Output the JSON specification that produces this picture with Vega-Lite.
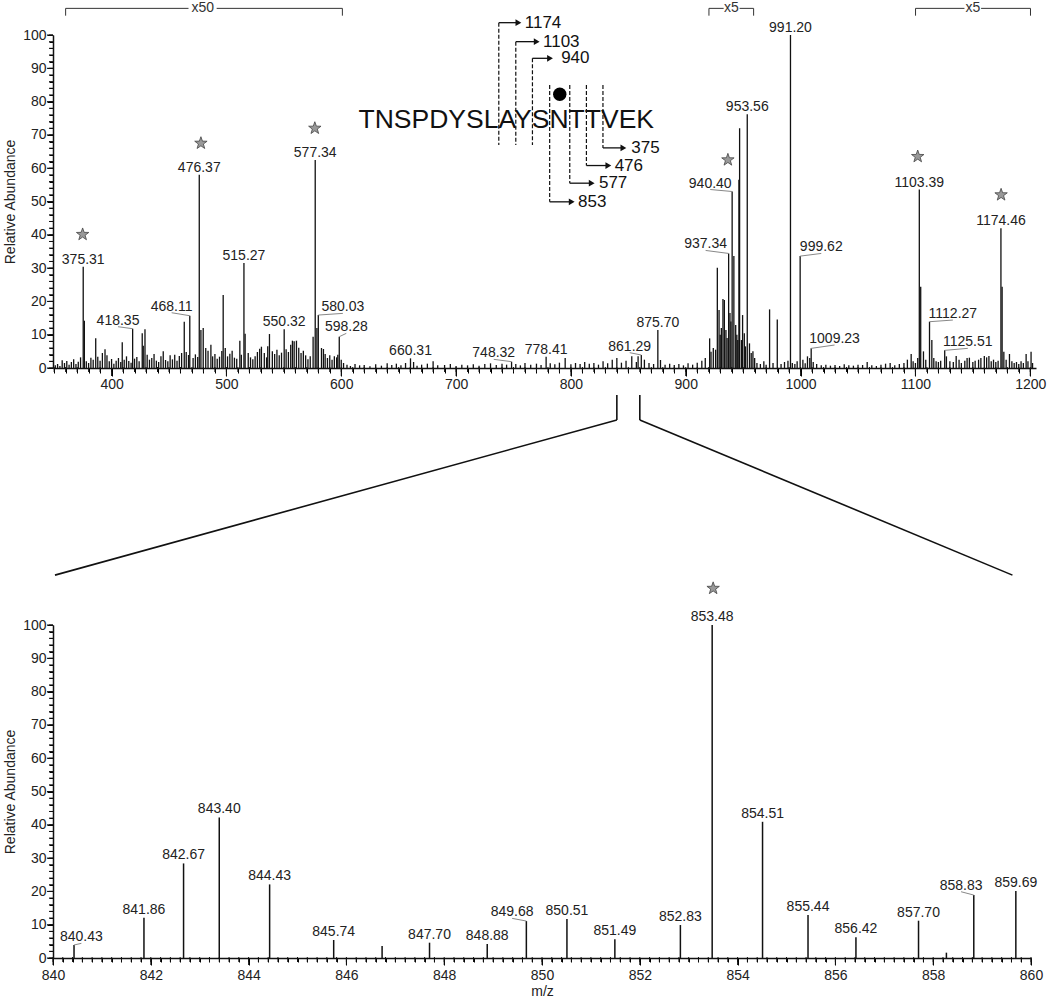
{
  "$schema": "https://vega.github.io/schema/vega-lite/v6.json",
  "background": "white",
  "padding": {"left": 3, "top": 1, "right": 5, "bottom": 4},
  "bounds": "flush",
  "spacing": 257,
  "config": {
    "font": "Liberation Sans",
    "view": {"stroke": null},
    "axis": {"grid": false, "ticks": true, "domain": true, "labelFlush": false, "labelOverlap": false, "tickColor": "#000", "tickWidth": 1, "tickOpacity": 1, "domainColor": "#111", "labelColor": "#222", "titleColor": "#222", "tickCount": 300}
  },
  "datasets": {
    "tickTopX": [{"v":350},{"v":360},{"v":370},{"v":380},{"v":390},{"v":400},{"v":410},{"v":420},{"v":430},{"v":440},{"v":450},{"v":460},{"v":470},{"v":480},{"v":490},{"v":500},{"v":510},{"v":520},{"v":530},{"v":540},{"v":550},{"v":560},{"v":570},{"v":580},{"v":590},{"v":600},{"v":610},{"v":620},{"v":630},{"v":640},{"v":650},{"v":660},{"v":670},{"v":680},{"v":690},{"v":700},{"v":710},{"v":720},{"v":730},{"v":740},{"v":750},{"v":760},{"v":770},{"v":780},{"v":790},{"v":800},{"v":810},{"v":820},{"v":830},{"v":840},{"v":850},{"v":860},{"v":870},{"v":880},{"v":890},{"v":900},{"v":910},{"v":920},{"v":930},{"v":940},{"v":950},{"v":960},{"v":970},{"v":980},{"v":990},{"v":1000},{"v":1010},{"v":1020},{"v":1030},{"v":1040},{"v":1050},{"v":1060},{"v":1070},{"v":1080},{"v":1090},{"v":1100},{"v":1110},{"v":1120},{"v":1130},{"v":1140},{"v":1150},{"v":1160},{"v":1170},{"v":1180},{"v":1190},{"v":1200}],
    "tickY": [{"v":0},{"v":2},{"v":4},{"v":6},{"v":8},{"v":10},{"v":12},{"v":14},{"v":16},{"v":18},{"v":20},{"v":22},{"v":24},{"v":26},{"v":28},{"v":30},{"v":32},{"v":34},{"v":36},{"v":38},{"v":40},{"v":42},{"v":44},{"v":46},{"v":48},{"v":50},{"v":52},{"v":54},{"v":56},{"v":58},{"v":60},{"v":62},{"v":64},{"v":66},{"v":68},{"v":70},{"v":72},{"v":74},{"v":76},{"v":78},{"v":80},{"v":82},{"v":84},{"v":86},{"v":88},{"v":90},{"v":92},{"v":94},{"v":96},{"v":98},{"v":100}],
    "tickBotX": [{"v":840},{"v":840.2},{"v":840.4},{"v":840.6},{"v":840.8},{"v":841},{"v":841.2},{"v":841.4},{"v":841.6},{"v":841.8},{"v":842},{"v":842.2},{"v":842.4},{"v":842.6},{"v":842.8},{"v":843},{"v":843.2},{"v":843.4},{"v":843.6},{"v":843.8},{"v":844},{"v":844.2},{"v":844.4},{"v":844.6},{"v":844.8},{"v":845},{"v":845.2},{"v":845.4},{"v":845.6},{"v":845.8},{"v":846},{"v":846.2},{"v":846.4},{"v":846.6},{"v":846.8},{"v":847},{"v":847.2},{"v":847.4},{"v":847.6},{"v":847.8},{"v":848},{"v":848.2},{"v":848.4},{"v":848.6},{"v":848.8},{"v":849},{"v":849.2},{"v":849.4},{"v":849.6},{"v":849.8},{"v":850},{"v":850.2},{"v":850.4},{"v":850.6},{"v":850.8},{"v":851},{"v":851.2},{"v":851.4},{"v":851.6},{"v":851.8},{"v":852},{"v":852.2},{"v":852.4},{"v":852.6},{"v":852.8},{"v":853},{"v":853.2},{"v":853.4},{"v":853.6},{"v":853.8},{"v":854},{"v":854.2},{"v":854.4},{"v":854.6},{"v":854.8},{"v":855},{"v":855.2},{"v":855.4},{"v":855.6},{"v":855.8},{"v":856},{"v":856.2},{"v":856.4},{"v":856.6},{"v":856.8},{"v":857},{"v":857.2},{"v":857.4},{"v":857.6},{"v":857.8},{"v":858},{"v":858.2},{"v":858.4},{"v":858.6},{"v":858.8},{"v":859},{"v":859.2},{"v":859.4},{"v":859.6},{"v":859.8},{"v":860}],
    "top": [
      {"mz":351,"h":0.8},{"mz":353,"h":1.2},{"mz":355,"h":0.6},{"mz":357,"h":2.3},{"mz":359,"h":1.5},{"mz":361,"h":2.1},{"mz":363,"h":1.0},{"mz":365,"h":1.8},{"mz":367,"h":2.6},{"mz":369,"h":1.2},{"mz":371,"h":1.9},{"mz":373,"h":3.2},
      {"mz":375.31,"h":30.4,"label":"375.31"},
      {"mz":376.3,"h":14.2},
      {"mz":378,"h":2.0},{"mz":380,"h":1.5},{"mz":382,"h":3.1},{"mz":384,"h":2.5},{"mz":386.2,"h":8.9},{"mz":388,"h":3.4},{"mz":390,"h":2.2},{"mz":392,"h":4.5},{"mz":394.3,"h":5.6},{"mz":396,"h":3.8},{"mz":398,"h":2.0},{"mz":400,"h":2.7},{"mz":402,"h":1.3},{"mz":404,"h":2.2},{"mz":406,"h":3.0},{"mz":408,"h":1.8},{"mz":409.3,"h":7.7},{"mz":411,"h":2.5},{"mz":413,"h":3.5},{"mz":415,"h":2.1},{"mz":417,"h":1.6},
      {"mz":418.35,"h":11.8,"label":"418.35","lx":405.6,"ly":12.4},
      {"mz":420,"h":2.8},{"mz":422,"h":3.3},{"mz":424,"h":2.0},{"mz":426.7,"h":10.4},{"mz":427.6,"h":6.7},{"mz":429.1,"h":11.6},{"mz":431,"h":4.0},{"mz":433,"h":2.5},{"mz":435,"h":3.0},{"mz":437,"h":4.2},{"mz":439,"h":2.2},{"mz":441,"h":1.8},{"mz":443,"h":3.5},{"mz":445,"h":5.0},{"mz":447,"h":2.4},{"mz":449,"h":2.0},{"mz":451,"h":3.8},{"mz":453,"h":2.6},{"mz":455,"h":4.0},{"mz":457,"h":2.2},{"mz":459,"h":3.6},{"mz":461,"h":4.5},{"mz":463.3,"h":13.9},{"mz":465,"h":4.8},{"mz":467,"h":3.9},
      {"mz":468.11,"h":15.7,"label":"468.11","lx":452.3,"ly":16.6},
      {"mz":471,"h":3.0},{"mz":473,"h":4.1},{"mz":475,"h":3.3},
      {"mz":476.37,"h":58,"label":"476.37"},
      {"mz":477.8,"h":11.4},{"mz":479.8,"h":12.0},{"mz":482,"h":6.0},{"mz":484,"h":5.2},{"mz":486.5,"h":7.0},{"mz":488,"h":3.5},{"mz":490,"h":4.2},{"mz":492,"h":2.8},{"mz":494,"h":3.4},{"mz":496,"h":5.1},{"mz":497.2,"h":21.9},{"mz":499,"h":6.0},{"mz":501,"h":3.5},{"mz":503,"h":4.3},{"mz":505,"h":5.2},{"mz":507,"h":3.1},{"mz":509,"h":2.8},{"mz":511.7,"h":8.2},{"mz":513,"h":4.0},
      {"mz":515.27,"h":31.5,"label":"515.27"},
      {"mz":516.3,"h":10.3},{"mz":519,"h":4.5},{"mz":521,"h":3.2},{"mz":523,"h":2.6},{"mz":525,"h":3.5},{"mz":527,"h":4.8},{"mz":529,"h":5.8},{"mz":530.5,"h":6.4},{"mz":533,"h":4.5},{"mz":535,"h":3.2},{"mz":536,"h":6.5},{"mz":537.5,"h":10.2},{"mz":540,"h":5.0},{"mz":542,"h":4.2},{"mz":544,"h":5.5},{"mz":546,"h":3.8},{"mz":548,"h":4.6},
      {"mz":550.32,"h":11.6,"label":"550.32"},
      {"mz":552,"h":5.6},{"mz":554,"h":4.8},{"mz":556,"h":7.0},{"mz":557.5,"h":8.2},{"mz":559,"h":8.0},{"mz":561,"h":8.2},{"mz":563,"h":6.1},{"mz":565,"h":4.5},{"mz":567,"h":5.2},{"mz":569,"h":3.8},{"mz":571,"h":2.6},{"mz":573,"h":3.5},{"mz":575.5,"h":9.4},
      {"mz":577.34,"h":62.5,"label":"577.34"},
      {"mz":578.8,"h":12.0},
      {"mz":580.03,"h":15.9,"label":"580.03","lx":601.4,"ly":16.4},
      {"mz":582.8,"h":6.0},{"mz":584.5,"h":5.7},{"mz":586,"h":4.2},{"mz":588,"h":3.0},{"mz":590,"h":3.8},{"mz":592,"h":2.5},{"mz":594,"h":3.5},{"mz":596,"h":3.2},{"mz":597,"h":4.0},
      {"mz":598.28,"h":9.4,"label":"598.28","lx":604.4,"ly":10.4},
      {"mz":600,"h":2.5},{"mz":602,"h":1.5},{"mz":605,"h":1.0},{"mz":608,"h":0.6},{"mz":612,"h":1.2},{"mz":616,"h":0.8},{"mz":620,"h":0.9},{"mz":625,"h":0.5},{"mz":630,"h":1.1},{"mz":635,"h":0.7},{"mz":640,"h":1.4},{"mz":644,"h":0.9},{"mz":648,"h":1.3},{"mz":652,"h":0.8},{"mz":656,"h":1.5},
      {"mz":660.31,"h":2.9,"label":"660.31"},
      {"mz":663,"h":1.8},{"mz":666,"h":0.7},{"mz":670,"h":1.0},{"mz":675,"h":1.3},{"mz":680,"h":2.0},{"mz":684,"h":0.8},{"mz":690,"h":0.9},{"mz":695,"h":1.2},{"mz":700,"h":0.6},{"mz":705,"h":1.0},{"mz":710,"h":0.8},{"mz":715,"h":1.1},{"mz":720,"h":0.7},{"mz":725,"h":1.2},{"mz":730,"h":1.4},{"mz":735,"h":0.9},{"mz":740,"h":1.3},{"mz":744,"h":1.0},
      {"mz":748.32,"h":1.9,"label":"748.32","lx":732.8,"ly":2.6},
      {"mz":752,"h":1.2},{"mz":756,"h":0.8},{"mz":760,"h":1.5},{"mz":765,"h":1.0},{"mz":770,"h":1.3},{"mz":774,"h":0.9},
      {"mz":778.41,"h":3.4,"label":"778.41"},
      {"mz":782,"h":1.4},{"mz":786,"h":1.1},{"mz":790,"h":1.6},{"mz":795,"h":3.0},{"mz":800,"h":1.1},{"mz":804,"h":1.5},{"mz":808,"h":1.2},{"mz":812,"h":1.8},{"mz":816,"h":1.3},{"mz":820,"h":1.5},{"mz":824,"h":1.0},{"mz":828,"h":2.0},{"mz":832,"h":1.4},{"mz":836,"h":2.5},{"mz":840,"h":3.0},{"mz":844,"h":1.6},{"mz":848,"h":2.2},{"mz":853,"h":3.5},{"mz":857,"h":1.8},{"mz":858.5,"h":3.5},
      {"mz":861.29,"h":3.9,"label":"861.29","lx":851.2,"ly":4.6},
      {"mz":864,"h":2.5},{"mz":868,"h":1.5},{"mz":872,"h":1.2},
      {"mz":875.7,"h":11.4,"label":"875.70"},
      {"mz":878,"h":2.4},{"mz":882,"h":1.0},{"mz":886,"h":1.3},{"mz":890,"h":0.9},{"mz":894,"h":1.2},{"mz":898,"h":0.8},{"mz":902,"h":1.4},{"mz":906,"h":1.0},{"mz":910,"h":1.6},{"mz":914,"h":2.2},{"mz":917,"h":3.0},
      {"mz":920.8,"h":8.9},{"mz":922,"h":4.9},{"mz":924,"h":6.0},{"mz":926,"h":5.5},{"mz":927.5,"h":30.1},{"mz":929,"h":17.4},{"mz":930,"h":10.0},{"mz":931,"h":12.0},{"mz":932.4,"h":20.7},{"mz":933.6,"h":20.4},{"mz":935,"h":11.4},{"mz":936,"h":9.0},
      {"mz":937.34,"h":34.4,"label":"937.34","lx":917.3,"ly":35.3},
      {"mz":938.5,"h":16.5},{"mz":939.3,"h":14.0},
      {"mz":940.4,"h":53,"label":"940.40","lx":921.3,"ly":53.6},
      {"mz":941.9,"h":33.6},{"mz":943.5,"h":12.9},{"mz":944.5,"h":10.0},{"mz":945.3,"h":8.4},{"mz":946.3,"h":56.5},{"mz":946.9,"h":72.0},{"mz":948.5,"h":8.4},{"mz":949.5,"h":15.9},{"mz":951,"h":10.4},{"mz":952,"h":6.5},
      {"mz":953.56,"h":76.2,"label":"953.56"},
      {"mz":955.5,"h":7.4},{"mz":957,"h":4.5},{"mz":958.5,"h":5.0},{"mz":960,"h":3.0},{"mz":962,"h":1.5},{"mz":965,"h":1.2},{"mz":968,"h":2.0},{"mz":970,"h":1.0},{"mz":973,"h":17.6},{"mz":976,"h":1.5},{"mz":979.7,"h":14.6},{"mz":983,"h":1.2},{"mz":986,"h":1.8},{"mz":989,"h":2.2},
      {"mz":991.2,"h":100,"label":"991.20"},
      {"mz":992.8,"h":1.5},{"mz":995,"h":1.2},{"mz":997,"h":2.0},
      {"mz":999.62,"h":33.6,"label":"999.62","lx":1018,"ly":34.4},
      {"mz":1002,"h":2.5},{"mz":1004,"h":1.4},{"mz":1006,"h":3.5},{"mz":1008,"h":3.0},
      {"mz":1009.23,"h":5.9,"label":"1009.23","lx":1029.6,"ly":6.9},
      {"mz":1011,"h":1.8},{"mz":1014,"h":1.2},{"mz":1018,"h":0.8},{"mz":1022,"h":1.0},{"mz":1026,"h":0.7},{"mz":1030,"h":0.9},{"mz":1034,"h":0.6},{"mz":1038,"h":1.1},{"mz":1042,"h":0.8},{"mz":1046,"h":0.7},{"mz":1050,"h":1.0},{"mz":1054,"h":0.9},{"mz":1058,"h":1.8},{"mz":1062,"h":0.8},{"mz":1066,"h":0.6},{"mz":1070,"h":1.0},{"mz":1074,"h":1.3},{"mz":1078,"h":1.5},{"mz":1082,"h":0.8},{"mz":1086,"h":1.2},{"mz":1090,"h":1.5},{"mz":1093,"h":2.5},{"mz":1096.3,"h":4.2},{"mz":1098,"h":2.0},{"mz":1100,"h":1.5},{"mz":1102,"h":3.0},
      {"mz":1103.39,"h":53.6,"label":"1103.39"},
      {"mz":1104.6,"h":24.4},{"mz":1107,"h":5.0},{"mz":1109,"h":2.5},
      {"mz":1112.27,"h":13.9,"label":"1112.27","lx":1132.6,"ly":14.4},
      {"mz":1114.3,"h":8.4},{"mz":1116,"h":3.0},{"mz":1118,"h":2.0},{"mz":1120,"h":1.8},{"mz":1122,"h":2.2},
      {"mz":1125.51,"h":5.3,"label":"1125.51","lx":1145.6,"ly":5.9},
      {"mz":1127,"h":3.5},{"mz":1130,"h":2.0},{"mz":1133,"h":1.8},{"mz":1135.5,"h":3.6},{"mz":1138,"h":2.5},{"mz":1140,"h":1.5},{"mz":1143,"h":2.2},{"mz":1145,"h":3.0},{"mz":1147,"h":3.1},{"mz":1150,"h":1.8},{"mz":1152,"h":2.2},{"mz":1155,"h":2.5},{"mz":1157,"h":3.0},{"mz":1160,"h":3.6},{"mz":1162,"h":3.2},{"mz":1164,"h":3.6},{"mz":1166,"h":2.0},{"mz":1168,"h":2.5},{"mz":1170,"h":1.8},{"mz":1172,"h":2.2},
      {"mz":1174.46,"h":42,"label":"1174.46"},
      {"mz":1175.5,"h":24.4},{"mz":1177,"h":4.9},{"mz":1179,"h":2.5},{"mz":1181.9,"h":4.2},{"mz":1184,"h":2.0},{"mz":1186,"h":1.5},{"mz":1188,"h":1.8},{"mz":1190,"h":1.2},{"mz":1192,"h":2.0},{"mz":1194,"h":1.5},{"mz":1196.4,"h":4.2},{"mz":1198,"h":2.0},{"mz":1200.7,"h":4.9},{"mz":1202,"h":1.5}
    ],
    "topStars": [
      {"mz":374.8,"y":40.1},{"mz":477.8,"y":67.5},{"mz":577.0,"y":72.0},{"mz":936.7,"y":62.5},{"mz":1102.0,"y":63.5},{"mz":1174.6,"y":52.0}
    ],
    "brackets": [
      {"x":360,"x2":360,"y":105.8,"y2":108},{"x":360,"x2":467,"y":108,"y2":108},{"x":491.5,"x2":601,"y":108,"y2":108},{"x":601,"x2":601,"y":108,"y2":105.8},
      {"x":920.2,"x2":920.2,"y":105.8,"y2":108},{"x":920.2,"x2":933,"y":108,"y2":108},{"x":946.9,"x2":959.1,"y":108,"y2":108},{"x":959.1,"x2":959.1,"y":108,"y2":105.8},
      {"x":1100.1,"x2":1100.1,"y":105.8,"y2":108},{"x":1100.1,"x2":1142.7,"y":108,"y2":108},{"x":1157.2,"x2":1200.2,"y":108,"y2":108},{"x":1200.2,"x2":1200.2,"y":108,"y2":105.8}
    ],
    "bracketText": [
      {"x":479.5,"y":108,"t":"x50"},{"x":939.7,"y":108,"t":"x5"},{"x":1150,"y":108,"t":"x5"}
    ],
    "connectors": [
      {"x":840,"x2":840,"y":-8.1,"y2":-15.6},{"x":860,"x2":860,"y":-8.1,"y2":-15.6},
      {"x":840,"x2":350.7,"y":-15.6,"y2":-62.2},{"x":860,"x2":1184.5,"y":-15.6,"y2":-62.2}
    ],
    "pepDash": [
      {"x":737.2,"y":103.7,"y2":67.0},{"x":752.0,"y":98.0,"y2":67.0},{"x":766.5,"y":93.0,"y2":67.0},
      {"x":781.5,"y":85.0,"y2":49.9},{"x":799.0,"y":85.0,"y2":55.5},{"x":813.5,"y":85.0,"y2":60.8},{"x":827.9,"y":85.0,"y2":66.1}
    ],
    "pepArrows": [
      {"x":737.2,"x2":756.9,"y":103.7,"head":754.3,"lx":759.8,"t":"1174"},
      {"x":752.0,"x2":772.8,"y":98.0,"head":770.2,"lx":775.7,"t":"1103"},
      {"x":766.5,"x2":784.4,"y":93.0,"head":781.8,"lx":791.5,"t":"940"},
      {"x":827.9,"x2":848.3,"y":66.1,"head":845.7,"lx":852.6,"t":"375"},
      {"x":813.5,"x2":835.2,"y":60.8,"head":832.6,"lx":838.1,"t":"476"},
      {"x":799.0,"x2":820.7,"y":55.5,"head":818.1,"lx":824.4,"t":"577"},
      {"x":781.5,"x2":803.3,"y":49.9,"head":800.7,"lx":806.2,"t":"853"}
    ],
    "pepText": [{"x":743.7,"y":72.0,"t":"TNSPDYSLAYSNTTVEK"}],
    "pepSite": [{"x":790.3,"y":82.2}],
    "bottom": [
      {"mz":840.43,"h":3.9,"label":"840.43","lx":840.58,"ly":4.4},
      {"mz":841.86,"h":12.1,"label":"841.86"},
      {"mz":842.67,"h":28.4,"label":"842.67"},
      {"mz":843.40,"h":42.2,"label":"843.40"},
      {"mz":844.43,"h":22.1,"label":"844.43"},
      {"mz":845.74,"h":5.4,"label":"845.74"},
      {"mz":846.73,"h":3.6},
      {"mz":847.70,"h":4.6,"label":"847.70"},
      {"mz":848.88,"h":4.2,"label":"848.88"},
      {"mz":849.68,"h":11.1,"label":"849.68","lx":849.39,"ly":11.9},
      {"mz":850.51,"h":11.7,"label":"850.51"},
      {"mz":851.49,"h":5.6,"label":"851.49"},
      {"mz":852.83,"h":9.9,"label":"852.83"},
      {"mz":853.48,"h":100,"label":"853.48"},
      {"mz":854.51,"h":40.9,"label":"854.51"},
      {"mz":855.44,"h":12.9,"label":"855.44"},
      {"mz":856.42,"h":6.2,"label":"856.42"},
      {"mz":857.70,"h":11.2,"label":"857.70"},
      {"mz":858.27,"h":1.6},
      {"mz":858.83,"h":18.9,"label":"858.83","lx":858.57,"ly":19.9},
      {"mz":859.69,"h":20.1,"label":"859.69"}
    ],
    "bottomStars": [{"mz":853.5,"y":111}]
  },
  "vconcat": [
    {
      "width": 983,
      "height": 333,
      "layer": [
        {
          "data": {"name": "top"},
          "mark": {"type": "rule", "color": "#111", "strokeWidth": 1.3, "clip": false},
          "encoding": {
            "x": {"field": "mz", "type": "quantitative", "scale": {"domain": [349, 1205], "nice": false, "zero": false},
                  "axis": {"orient": "bottom", "ticks": true, "tickCount": 300,
                           "values": [350,360,370,380,390,400,410,420,430,440,450,460,470,480,490,500,510,520,530,540,550,560,570,580,590,600,610,620,630,640,650,660,670,680,690,700,710,720,730,740,750,760,770,780,790,800,810,820,830,840,850,860,870,880,890,900,910,920,930,940,950,960,970,980,990,1000,1010,1020,1030,1040,1050,1060,1070,1080,1090,1100,1110,1120,1130,1140,1150,1160,1170,1180,1190,1200],
                           "labelExpr": "abs(datum.value % 100) < 0.001 ? format(datum.value, 'd') : ''",
                           "tickSize": {"condition": {"test": "abs(datum.value % 100) < 0.001", "value": 8}, "value": 5},
                           "title": null, "domainWidth": 1.5, "labelFontSize": 14, "labelPadding": 1}},
            "y": {"field": "h", "type": "quantitative", "scale": {"domain": [0, 100], "nice": false},
                  "axis": {"orient": "left", "ticks": true, "tickCount": 300,
                           "values": [0,2,4,6,8,10,12,14,16,18,20,22,24,26,28,30,32,34,36,38,40,42,44,46,48,50,52,54,56,58,60,62,64,66,68,70,72,74,76,78,80,82,84,86,88,90,92,94,96,98,100],
                           "labelExpr": "abs(datum.value % 10) < 0.001 ? format(datum.value, 'd') : ''",
                           "tickSize": {"condition": {"test": "abs(datum.value % 10) < 0.001", "value": 6}, "value": 4},
                           "title": "Relative Abundance", "titleFontSize": 14, "titleFontWeight": "normal", "titlePadding": 5, "domainWidth": 1.5, "labelFontSize": 14, "labelPadding": 1}},
            "y2": {"datum": 0}
          }
        },
        {
          "data": {"name": "tickTopX"},
          "mark": {"type": "rule", "color": "#111", "strokeWidth": 1, "yOffset": -1, "y2Offset": 4, "clip": false},
          "encoding": {
            "x": {"field": "v", "type": "quantitative"},
            "y": {"datum": 0, "type": "quantitative"},
            "y2": {"datum": 0}
          }
        },
        {
          "data": {"name": "tickTopX"},
          "transform": [{"filter": "datum.v % 100 == 0"}],
          "mark": {"type": "rule", "color": "#111", "strokeWidth": 1, "y2Offset": 8, "clip": false},
          "encoding": {
            "x": {"field": "v", "type": "quantitative"},
            "y": {"datum": 0, "type": "quantitative"},
            "y2": {"datum": 0}
          }
        },
        {
          "data": {"name": "tickY"},
          "mark": {"type": "rule", "color": "#111", "strokeWidth": 1, "x2Offset": -4, "clip": false},
          "encoding": {
            "y": {"field": "v", "type": "quantitative"},
            "x": {"datum": 349, "type": "quantitative"},
            "x2": {"datum": 349}
          }
        },
        {
          "data": {"name": "tickY"},
          "transform": [{"filter": "datum.v % 10 == 0"}],
          "mark": {"type": "rule", "color": "#111", "strokeWidth": 1, "x2Offset": -6, "clip": false},
          "encoding": {
            "y": {"field": "v", "type": "quantitative"},
            "x": {"datum": 349, "type": "quantitative"},
            "x2": {"datum": 349}
          }
        },
        {
          "data": {"name": "top"},
          "transform": [{"filter": "datum.label != null && datum.lx == null"}],
          "mark": {"type": "text", "align": "center", "baseline": "alphabetic", "dy": -3, "fontSize": 14, "color": "#222", "clip": false},
          "encoding": {
            "x": {"field": "mz", "type": "quantitative"},
            "y": {"field": "h", "type": "quantitative"},
            "text": {"field": "label"}
          }
        },
        {
          "data": {"name": "top"},
          "transform": [{"filter": "datum.lx != null"}],
          "mark": {"type": "rule", "color": "#888", "strokeWidth": 1, "clip": false},
          "encoding": {
            "x": {"field": "lx", "type": "quantitative"},
            "y": {"field": "ly", "type": "quantitative"},
            "x2": {"field": "mz"},
            "y2": {"field": "h"}
          }
        },
        {
          "data": {"name": "top"},
          "transform": [{"filter": "datum.lx != null"}],
          "mark": {"type": "text", "align": "center", "baseline": "alphabetic", "dy": -2, "fontSize": 14, "color": "#222", "clip": false},
          "encoding": {
            "x": {"field": "lx", "type": "quantitative"},
            "y": {"field": "ly", "type": "quantitative"},
            "text": {"field": "label"}
          }
        },
        {
          "data": {"name": "topStars"},
          "mark": {"type": "point", "shape": "M0,-1L0.235,-0.324L0.951,-0.309L0.38,0.124L0.588,0.809L0,0.4L-0.588,0.809L-0.38,0.124L-0.951,-0.309L-0.235,-0.324Z", "size": 170, "filled": true, "fill": "#999", "stroke": "#444", "strokeWidth": 0.8, "opacity": 1, "clip": false},
          "encoding": {
            "x": {"field": "mz", "type": "quantitative"},
            "y": {"field": "y", "type": "quantitative"}
          }
        },
        {
          "data": {"name": "brackets"},
          "mark": {"type": "rule", "color": "#333", "strokeWidth": 1, "clip": false},
          "encoding": {
            "x": {"field": "x", "type": "quantitative"},
            "x2": {"field": "x2"},
            "y": {"field": "y", "type": "quantitative"},
            "y2": {"field": "y2"}
          }
        },
        {
          "data": {"name": "bracketText"},
          "mark": {"type": "text", "align": "center", "baseline": "middle", "fontSize": 14, "color": "#333", "clip": false},
          "encoding": {
            "x": {"field": "x", "type": "quantitative"},
            "y": {"field": "y", "type": "quantitative"},
            "text": {"field": "t"}
          }
        },
        {
          "data": {"name": "connectors"},
          "mark": {"type": "rule", "color": "#111", "strokeWidth": 1.6, "clip": false},
          "encoding": {
            "x": {"field": "x", "type": "quantitative"},
            "x2": {"field": "x2"},
            "y": {"field": "y", "type": "quantitative"},
            "y2": {"field": "y2"}
          }
        },
        {
          "data": {"name": "pepDash"},
          "mark": {"type": "rule", "color": "#111", "strokeWidth": 1.2, "strokeDash": [4, 2], "clip": false},
          "encoding": {
            "x": {"field": "x", "type": "quantitative"},
            "y": {"field": "y", "type": "quantitative"},
            "y2": {"field": "y2"}
          }
        },
        {
          "data": {"name": "pepArrows"},
          "mark": {"type": "rule", "color": "#111", "strokeWidth": 1.3, "clip": false},
          "encoding": {
            "x": {"field": "x", "type": "quantitative"},
            "x2": {"field": "head"},
            "y": {"field": "y", "type": "quantitative"}
          }
        },
        {
          "data": {"name": "pepArrows"},
          "mark": {"type": "point", "shape": "triangle-right", "size": 45, "filled": true, "color": "#111", "opacity": 1, "clip": false},
          "encoding": {
            "x": {"field": "head", "type": "quantitative"},
            "y": {"field": "y", "type": "quantitative"}
          }
        },
        {
          "data": {"name": "pepArrows"},
          "mark": {"type": "text", "align": "left", "baseline": "middle", "fontSize": 17, "color": "#111", "clip": false},
          "encoding": {
            "x": {"field": "lx", "type": "quantitative"},
            "y": {"field": "y", "type": "quantitative"},
            "text": {"field": "t"}
          }
        },
        {
          "data": {"name": "pepText"},
          "mark": {"type": "text", "align": "center", "baseline": "alphabetic", "fontSize": 26.5, "color": "#111", "clip": false},
          "encoding": {
            "x": {"field": "x", "type": "quantitative"},
            "y": {"field": "y", "type": "quantitative"},
            "text": {"field": "t"}
          }
        },
        {
          "data": {"name": "pepSite"},
          "mark": {"type": "point", "shape": "circle", "size": 180, "filled": true, "color": "#000", "opacity": 1, "clip": false},
          "encoding": {
            "x": {"field": "x", "type": "quantitative"},
            "y": {"field": "y", "type": "quantitative"}
          }
        }
      ]
    },
    {
      "width": 978,
      "height": 333,
      "layer": [
        {
          "data": {"name": "bottom"},
          "mark": {"type": "rule", "color": "#111", "strokeWidth": 1.5, "clip": false},
          "encoding": {
            "x": {"field": "mz", "type": "quantitative", "scale": {"domain": [840, 860], "nice": false, "zero": false},
                  "axis": {"orient": "bottom", "ticks": true, "tickCount": 300,
                           "values": [840,840.2,840.4,840.6,840.8,841,841.2,841.4,841.6,841.8,842,842.2,842.4,842.6,842.8,843,843.2,843.4,843.6,843.8,844,844.2,844.4,844.6,844.8,845,845.2,845.4,845.6,845.8,846,846.2,846.4,846.6,846.8,847,847.2,847.4,847.6,847.8,848,848.2,848.4,848.6,848.8,849,849.2,849.4,849.6,849.8,850,850.2,850.4,850.6,850.8,851,851.2,851.4,851.6,851.8,852,852.2,852.4,852.6,852.8,853,853.2,853.4,853.6,853.8,854,854.2,854.4,854.6,854.8,855,855.2,855.4,855.6,855.8,856,856.2,856.4,856.6,856.8,857,857.2,857.4,857.6,857.8,858,858.2,858.4,858.6,858.8,859,859.2,859.4,859.6,859.8,860],
                           "labelExpr": "abs(datum.value / 2 - round(datum.value / 2)) < 0.001 ? format(datum.value, 'd') : ''",
                           "tickSize": {"condition": {"test": "abs(datum.value / 2 - round(datum.value / 2)) < 0.001", "value": 7}, "value": 4},
                           "title": "m/z", "titleFontSize": 14, "titleFontWeight": "normal", "titlePadding": 2, "domainWidth": 1.5, "labelFontSize": 14, "labelPadding": 3}},
            "y": {"field": "h", "type": "quantitative", "scale": {"domain": [0, 100], "nice": false},
                  "axis": {"orient": "left", "ticks": true, "tickCount": 300,
                           "values": [0,2,4,6,8,10,12,14,16,18,20,22,24,26,28,30,32,34,36,38,40,42,44,46,48,50,52,54,56,58,60,62,64,66,68,70,72,74,76,78,80,82,84,86,88,90,92,94,96,98,100],
                           "labelExpr": "abs(datum.value % 10) < 0.001 ? format(datum.value, 'd') : ''",
                           "tickSize": {"condition": {"test": "abs(datum.value % 10) < 0.001", "value": 6}, "value": 4},
                           "title": "Relative Abundance", "titleFontSize": 14, "titleFontWeight": "normal", "titlePadding": 5, "domainWidth": 1.5, "labelFontSize": 14, "labelPadding": 1}},
            "y2": {"datum": 0}
          }
        },
        {
          "data": {"name": "tickBotX"},
          "mark": {"type": "rule", "color": "#111", "strokeWidth": 1, "yOffset": -1, "y2Offset": 4, "clip": false},
          "encoding": {
            "x": {"field": "v", "type": "quantitative"},
            "y": {"datum": 0, "type": "quantitative"},
            "y2": {"datum": 0}
          }
        },
        {
          "data": {"name": "tickBotX"},
          "transform": [{"filter": "abs(datum.v / 2 - round(datum.v / 2)) < 0.001"}],
          "mark": {"type": "rule", "color": "#111", "strokeWidth": 1, "y2Offset": 7, "clip": false},
          "encoding": {
            "x": {"field": "v", "type": "quantitative"},
            "y": {"datum": 0, "type": "quantitative"},
            "y2": {"datum": 0}
          }
        },
        {
          "data": {"name": "tickY"},
          "mark": {"type": "rule", "color": "#111", "strokeWidth": 1, "x2Offset": -4, "clip": false},
          "encoding": {
            "y": {"field": "v", "type": "quantitative"},
            "x": {"datum": 840, "type": "quantitative"},
            "x2": {"datum": 840}
          }
        },
        {
          "data": {"name": "tickY"},
          "transform": [{"filter": "datum.v % 10 == 0"}],
          "mark": {"type": "rule", "color": "#111", "strokeWidth": 1, "x2Offset": -6, "clip": false},
          "encoding": {
            "y": {"field": "v", "type": "quantitative"},
            "x": {"datum": 840, "type": "quantitative"},
            "x2": {"datum": 840}
          }
        },
        {
          "data": {"name": "bottom"},
          "transform": [{"filter": "datum.label != null && datum.lx == null"}],
          "mark": {"type": "text", "align": "center", "baseline": "alphabetic", "dy": -4, "fontSize": 14, "color": "#222", "clip": false},
          "encoding": {
            "x": {"field": "mz", "type": "quantitative"},
            "y": {"field": "h", "type": "quantitative"},
            "text": {"field": "label"}
          }
        },
        {
          "data": {"name": "bottom"},
          "transform": [{"filter": "datum.lx != null"}],
          "mark": {"type": "rule", "color": "#888", "strokeWidth": 1, "clip": false},
          "encoding": {
            "x": {"field": "lx", "type": "quantitative"},
            "y": {"field": "ly", "type": "quantitative"},
            "x2": {"field": "mz"},
            "y2": {"field": "h"}
          }
        },
        {
          "data": {"name": "bottom"},
          "transform": [{"filter": "datum.lx != null"}],
          "mark": {"type": "text", "align": "center", "baseline": "alphabetic", "dy": -2, "fontSize": 14, "color": "#222", "clip": false},
          "encoding": {
            "x": {"field": "lx", "type": "quantitative"},
            "y": {"field": "ly", "type": "quantitative"},
            "text": {"field": "label"}
          }
        },
        {
          "data": {"name": "bottomStars"},
          "mark": {"type": "point", "shape": "M0,-1L0.235,-0.324L0.951,-0.309L0.38,0.124L0.588,0.809L0,0.4L-0.588,0.809L-0.38,0.124L-0.951,-0.309L-0.235,-0.324Z", "size": 170, "filled": true, "fill": "#999", "stroke": "#444", "strokeWidth": 0.8, "opacity": 1, "clip": false},
          "encoding": {
            "x": {"field": "mz", "type": "quantitative"},
            "y": {"field": "y", "type": "quantitative"}
          }
        }
      ]
    }
  ]
}
